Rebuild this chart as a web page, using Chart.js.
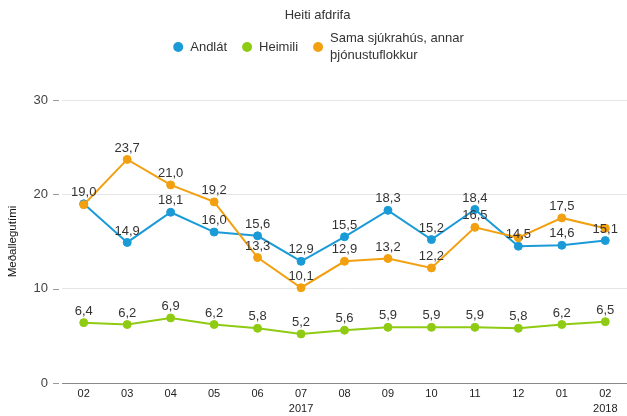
<!DOCTYPE html>
<html><head><meta charset="utf-8">
<script src="https://cdn.jsdelivr.net/npm/chart.js@4"></script>
<style>html,body{margin:0;padding:0;background:#fff}#wrap{width:627px;height:416px;position:relative}</style>
</head><body><div id="wrap"><canvas id="c"></canvas></div>
<script>
const months = ['02','03','04','05','06','07','08','09','10','11','12','01','02'];
const years = ['','','','','','2017','','','','','','','2018'];
const andlat = [19.0,14.9,18.1,16.0,15.6,12.9,15.5,18.3,15.2,18.4,14.5,14.6,15.1];
const heimili = [6.4,6.2,6.9,6.2,5.8,5.2,5.6,5.9,5.9,5.9,5.8,6.2,6.5];
const sama = [18.9,23.7,21.0,19.2,13.3,10.1,12.9,13.2,12.2,16.5,15.4,17.5,16.4];
const seriesNames = ['Andlát','Heimili','Sama sjúkrahús, annar þjónustuflokkur'];
const legendLines = [['Andlát'],['Heimili'],['Sama sjúkrahús, annar','þjónustuflokkur']];
const yTicks = [0,10,20,30];
const titleText = 'Heiti afdrifa';
const yTitle = 'Meðallegutími';
const colors = ['#1b9ad8','#8fcb12','#f2a00f'];

const FONT = "'Liberation Sans', Arial, sans-serif";
const NARROW = "'Liberation Sans Narrow', 'Arial Narrow', 'Liberation Sans', sans-serif";

const labels = months.map((m,i)=>[m, years[i]]);

function mkDs(i, data, order){
  return {label: seriesNames[i], data, borderColor: colors[i], backgroundColor: colors[i],
    pointBackgroundColor: colors[i], pointBorderColor: colors[i], borderWidth: 2,
    pointRadius: 4, pointBorderWidth: 1, tension: 0, order};
}

const dataLabels = {
  id: 'dataLabels',
  afterDatasetsDraw(chart){
    const ctx = chart.ctx;
    ctx.save();
    ctx.font = '13px ' + FONT;
    ctx.fillStyle = '#333';
    ctx.textAlign = 'center';
    ctx.textBaseline = 'bottom';
    const placed = [];
    chart.data.datasets.forEach((ds, di) => {
      const meta = chart.getDatasetMeta(di);
      meta.data.forEach((pt, j) => {
        const txt = ds.data[j].toFixed(1).replace('.', ',');
        const w = ctx.measureText(txt).width;
        const by = pt.y - 5;
        const r = {x1: pt.x - w/2 - 1, x2: pt.x + w/2 + 1, y1: by - 14, y2: by + 1};
        const hit = placed.some(p => !(r.x2 < p.x1 || r.x1 > p.x2 || r.y2 < p.y1 || r.y1 > p.y2));
        if (hit) return;
        placed.push(r);
        ctx.fillText(txt, pt.x, by);
      });
    });
    ctx.restore();
  }
};

const yTickMarks = {
  id: 'yTickMarks',
  afterDraw(chart){
    const ctx = chart.ctx, y = chart.scales.y, left = chart.chartArea.left;
    ctx.save();
    ctx.strokeStyle = '#999';
    ctx.lineWidth = 1;
    yTicks.forEach(v => {
      const py = Math.round(y.getPixelForValue(v)) + 0.5;
      ctx.beginPath();
      ctx.moveTo(left - 9, py);
      ctx.lineTo(left - 3, py);
      ctx.stroke();
    });
    ctx.restore();
  }
};

const header = {
  id: 'header',
  afterDraw(chart){
    const ctx = chart.ctx;
    const W = chart.width;
    ctx.save();
    ctx.fillStyle = '#333';
    ctx.font = '13px ' + FONT;
    ctx.textAlign = 'center';
    ctx.textBaseline = 'middle';
    ctx.fillText(titleText, W / 2 + 4, 15);
    // legend
    const r = 5, gapText = 7, itemGap = 15, lineH = 17, cy = 47;
    const widths = legendLines.map(lines => Math.max(...lines.map(l => ctx.measureText(l).width)));
    const itemW = widths.map(w => 2 * r + gapText + w);
    const total = itemW.reduce((a, b) => a + b, 0) + itemGap * (itemW.length - 1);
    let x = W / 2 + 5 - total / 2;
    ctx.textAlign = 'left';
    legendLines.forEach((lines, i) => {
      ctx.fillStyle = colors[i];
      ctx.beginPath();
      ctx.arc(x + r, cy, r, 0, Math.PI * 2);
      ctx.fill();
      ctx.fillStyle = '#333';
      const ty0 = cy - (lines.length - 1) * lineH / 2;
      lines.forEach((l, k) => ctx.fillText(l, x + 2 * r + gapText, ty0 + k * lineH));
      x += itemW[i] + itemGap;
    });
    ctx.restore();
  }
};

new Chart(document.getElementById('c'), {
  type: 'line',
  data: {labels, datasets: [mkDs(0, andlat, 3), mkDs(1, heimili, 2), mkDs(2, sama, 1)]},
  options: {
    responsive: true, maintainAspectRatio: false, animation: false,
    layout: {autoPadding: false, padding: {left: 0, right: 0, top: 100, bottom: 0}},
    plugins: {
      title: {display: false},
      legend: {display: false},
      tooltip: {enabled: false}
    },
    scales: {
      x: {
        type: 'category', offset: true,
        grid: {display: false, drawTicks: false},
        border: {display: true, color: '#888', width: 1},
        ticks: {color: '#222', font: {family: NARROW, size: 11, lineHeight: 1.4}, padding: 3, maxRotation: 0, autoSkip: false},
        afterFit(s){ s.height = 33; }
      },
      y: {
        min: 0, max: 30,
        afterBuildTicks(s){ s.ticks = yTicks.map(v => ({value: v})); },
        grid: {color: '#e6e6e6', drawTicks: false},
        border: {display: false},
        ticks: {color: '#444', font: {family: FONT, size: 13}, padding: 14},
        title: {display: true, text: yTitle, color: '#111', font: {family: FONT, size: 11.5}, padding: {top: 6, bottom: 0}},
        afterFit(s){ s.width = 62; }
      }
    }
  },
  plugins: [dataLabels, yTickMarks, header]
});
</script>
</body></html>
